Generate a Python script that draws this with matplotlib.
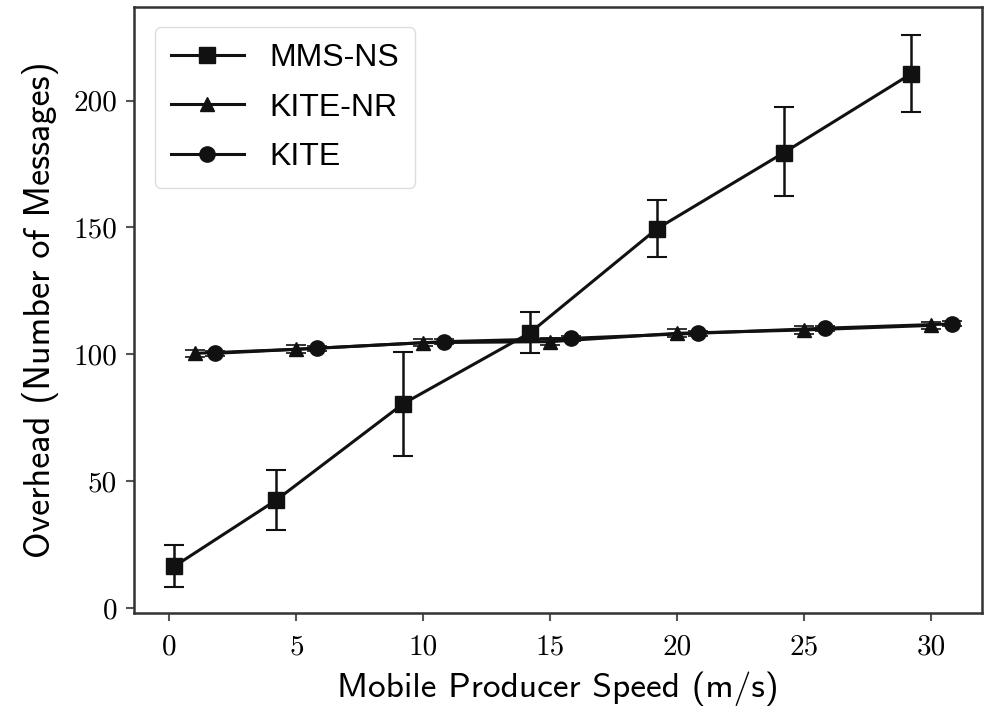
import matplotlib
matplotlib.use("Agg")
import matplotlib.pyplot as plt
from matplotlib.lines import Line2D
import numpy as np

plt.rcParams['axes.formatter.use_mathtext'] = True

# Data
mms_x = [0.2, 4.2, 9.2, 14.2, 19.2, 24.2, 29.2]
mms_y = [16.5, 42.5, 80.5, 108.5, 149.5, 179.5, 210.5]
mms_lo = [8.3, 30.8, 60.0, 100.5, 138.5, 162.3, 195.5]
mms_hi = [25.0, 54.5, 101.0, 116.5, 161.0, 197.5, 225.8]

kitenr_x = [1, 5, 10, 15, 20, 25, 30]
kitenr_y = [100.4, 102.0, 104.6, 105.0, 108.3, 109.6, 111.4]
kitenr_err = [1.5, 1.5, 1.5, 1.5, 1.5, 1.5, 1.5]

kite_x = [1.8, 5.8, 10.8, 15.8, 20.8, 25.8, 30.8]
kite_y = [100.4, 102.4, 105.0, 106.3, 108.3, 110.3, 112.0]
kite_err = [1.0, 1.0, 1.0, 1.0, 1.0, 1.0, 1.0]

xticks = [0, 5, 10, 15, 20, 25, 30]
yticks = [0, 50, 100, 150, 200]
labels = ['MMS-NS', 'KITE-NR', 'KITE']

fig = plt.figure(figsize=(9.84, 7.13), dpi=100)
ax = fig.add_axes([0.136, 0.140, 0.862, 0.8506])

c = '#111111'
lw = 2.2
cap = 7
mms_err = [np.array(mms_y) - np.array(mms_lo), np.array(mms_hi) - np.array(mms_y)]
ax.errorbar(mms_x, mms_y, yerr=mms_err, color=c, marker='s', ms=11,
            lw=lw, capsize=cap, elinewidth=1.8, capthick=1.5)
ax.errorbar(kitenr_x, kitenr_y, yerr=kitenr_err, color=c, marker='^', ms=10,
            lw=lw, capsize=cap, elinewidth=1.4, capthick=1.2)
ax.errorbar(kite_x, kite_y, yerr=kite_err, color=c, marker='o', ms=11,
            lw=lw, capsize=cap, elinewidth=1.4, capthick=1.2)

ax.set_xlim(-1.4, 32.0)
ax.set_ylim(-2, 237)
ax.set_xticks(xticks)
ax.set_yticks(yticks)
ax.set_xticklabels([str(t) for t in xticks], fontfamily='cmr10', fontsize=21)
ax.set_yticklabels([str(t) for t in yticks], fontfamily='cmr10', fontsize=21)
ax.tick_params(length=6, width=1.5, color='#555555')
ax.tick_params(axis='x', pad=9)
ax.tick_params(axis='y', pad=6)

for s in ax.spines.values():
    s.set_color('#333333')
    s.set_linewidth(1.8)

ax.set_xlabel('Mobile Producer Speed (m/s)', fontfamily='cmss10', fontsize=25.5, labelpad=8)
ax.set_ylabel('Overhead (Number of Messages)', fontfamily='cmss10', fontsize=26, labelpad=10)

handles = [Line2D([], [], color=c, marker='s', ms=11, lw=lw),
           Line2D([], [], color=c, marker='^', ms=10, lw=lw),
           Line2D([], [], color=c, marker='o', ms=11, lw=lw)]
leg = ax.legend(handles, labels, loc='upper left',
                prop={'family': 'Liberation Sans', 'size': 23},
                handlelength=2.3, borderpad=0.5, labelspacing=0.6,
                handletextpad=0.8, borderaxespad=0.65,
                fancybox=True, framealpha=1.0)
leg.get_frame().set_edgecolor('#dddddd')
leg.get_frame().set_linewidth(1.0)

fig.savefig('out.png', dpi=100)
